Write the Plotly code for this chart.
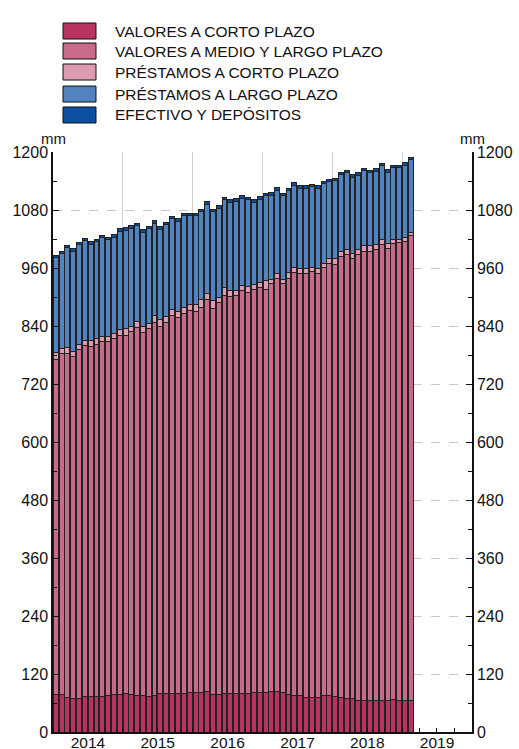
import plotly.graph_objects as go
import pandas as pd

# monthly data, Jan 2014 - Feb 2019
months = pd.date_range("2014-01-01", "2019-02-01", freq="MS").strftime("%Y-%m-%d").tolist()

valores_corto = [78, 78, 72, 70, 70, 73, 73, 73, 74, 75, 77, 77, 79, 78, 75, 75, 74, 76, 79, 79,
                 79, 79, 79, 81, 81, 82, 83, 78, 77, 79, 79, 80, 79, 80, 81, 82, 82, 83, 83, 82,
                 78, 76, 75, 72, 72, 72, 75, 76, 74, 72, 69, 69, 66, 66, 66, 65, 65, 66, 67, 66,
                 66, 66]
valores_medio_largo = [692, 705, 712, 707, 721, 727, 725, 728, 734, 732, 737, 744, 741, 750, 762, 751,
                       760, 772, 760, 769, 783, 778, 787, 791, 789, 797, 812, 799, 811, 824, 822, 823,
                       835, 830, 834, 837, 833, 844, 855, 846, 861, 874, 873, 876, 880, 877, 886, 894,
                       894, 912, 919, 910, 921, 928, 928, 933, 944, 935, 944, 947, 949, 961]
prestamos_corto = [16, 11, 11, 10, 10, 11, 12, 13, 11, 12, 11, 11, 14, 11, 12, 12, 12, 13, 14, 12,
                   12, 12, 13, 12, 14, 16, 13, 15, 10, 16, 12, 10, 9, 12, 10, 10, 19, 10, 10, 9,
                   11, 12, 10, 10, 10, 9, 9, 9, 12, 10, 11, 11, 11, 13, 12, 10, 11, 10, 8, 7,
                   8, 7]
prestamos_largo = [195, 196, 207, 208, 207, 205, 199, 200, 204, 200, 199, 204, 204, 203, 199, 196,
                   195, 192, 187, 190, 188, 188, 189, 184, 184, 182, 184, 184, 186, 182, 183, 185,
                   181, 179, 171, 173, 175, 174, 173, 173, 170, 169, 167, 167, 166, 167, 164, 160,
                   161, 159, 158, 158, 154, 154, 151, 152, 152, 147, 148, 148, 150, 150]
efectivo = [5, 5, 5, 5, 5, 5, 5, 5, 5, 5, 5, 5, 5, 5, 5, 5, 5, 5, 5, 5,
            5, 5, 5, 5, 5, 5, 5, 5, 5, 5, 5, 5, 5, 5, 5, 5, 5, 5, 5, 5,
            5, 5, 5, 5, 5, 5, 5, 5, 5, 5, 5, 5, 5, 5, 5, 5, 5, 5, 5, 5,
            5, 5]

names = ["VALORES A CORTO PLAZO", "VALORES A MEDIO Y LARGO PLAZO", "PRÉSTAMOS A CORTO PLAZO",
         "PRÉSTAMOS A LARGO PLAZO", "EFECTIVO Y DEPÓSITOS"]
colors = ["#b8335e", "#c96b88", "#de9bb0", "#5083bf", "#0c4ea0"]
series = [valores_corto, valores_medio_largo, prestamos_corto, prestamos_largo, efectivo]

FONT = "Liberation Sans, Arial, sans-serif"
bar_w = 0.84 * 30.4 * 24 * 3600 * 1000

fig = go.Figure()
for name, col, vals in zip(names, colors, series):
    fig.add_trace(go.Bar(x=months, y=vals, name=name, marker_color=col,
                         marker_line=dict(color="#222222", width=1),
                         xperiod="M1", xperiodalignment="middle", width=bar_w,
                         showlegend=False))
# empty trace so the right axis is drawn
fig.add_trace(go.Scatter(x=[months[0]], y=[None], yaxis="y2", showlegend=False, hoverinfo="skip"))

# legend drawn by hand to get the wide boxes
leg_y = [1.2086, 1.1741, 1.1379, 1.0999, 1.0638]
for name, col, ly in zip(names, colors, leg_y):
    fig.add_shape(type="rect", xref="paper", yref="paper", x0=0.0239, x1=0.1026,
                  y0=ly - 0.0138, y1=ly + 0.0138, fillcolor=col, line=dict(color="#111111", width=1))
    fig.add_annotation(xref="paper", yref="paper", x=0.143, y=ly, text=name, showarrow=False,
                       xanchor="left", yanchor="middle", font=dict(size=15.5, color="#111111", family=FONT))

for xm in [0.0, 1.0]:
    fig.add_annotation(xref="paper", yref="paper", x=xm, y=1.0, text="mm", showarrow=False,
                       xanchor="center", yanchor="bottom", yshift=3,
                       font=dict(size=15, color="#111111", family=FONT))

yax = dict(range=[0, 1200], dtick=120, tick0=0, showline=True, linecolor="#111111", linewidth=1.5,
           ticks="inside", ticklen=6, tickcolor="#111111", showgrid=True, gridcolor="#c8c8c8",
           griddash="dash", zeroline=False, automargin=False,
           tickfont=dict(size=16, color="#111111", family=FONT),
           minor=dict(dtick=60, ticks="inside", ticklen=4, tickcolor="#111111", showgrid=False))

fig.update_layout(
    width=519, height=749,
    margin=dict(l=53, r=47, t=152, b=17),
    paper_bgcolor="white", plot_bgcolor="white",
    barmode="stack",
    font=dict(family=FONT, size=14, color="#111111"),
    xaxis=dict(type="date", range=["2014-01-01", "2020-01-01"], tick0="2014-01-01", dtick="M12",
               tickformat="%Y", ticklabelmode="period", showline=True, linecolor="#111111",
               linewidth=1.5, ticks="inside", ticklen=5, tickcolor="#111111", showgrid=True,
               gridcolor="#d0d0d0", gridwidth=1, automargin=False, ticklabelstandoff=-4,
               tickfont=dict(size=15.5, color="#111111", family=FONT),
               minor=dict(dtick="M3", ticks="inside", ticklen=4, tickcolor="#111111", showgrid=False)),
    yaxis=yax,
    yaxis2=dict(yax, overlaying="y", side="right", matches="y", showgrid=False),
)

# page has a default body margin; drop it so the figure fills the window
fig.write_html("out.html", config={"displayModeBar": False},
               post_script="document.body.style.margin='0';")
